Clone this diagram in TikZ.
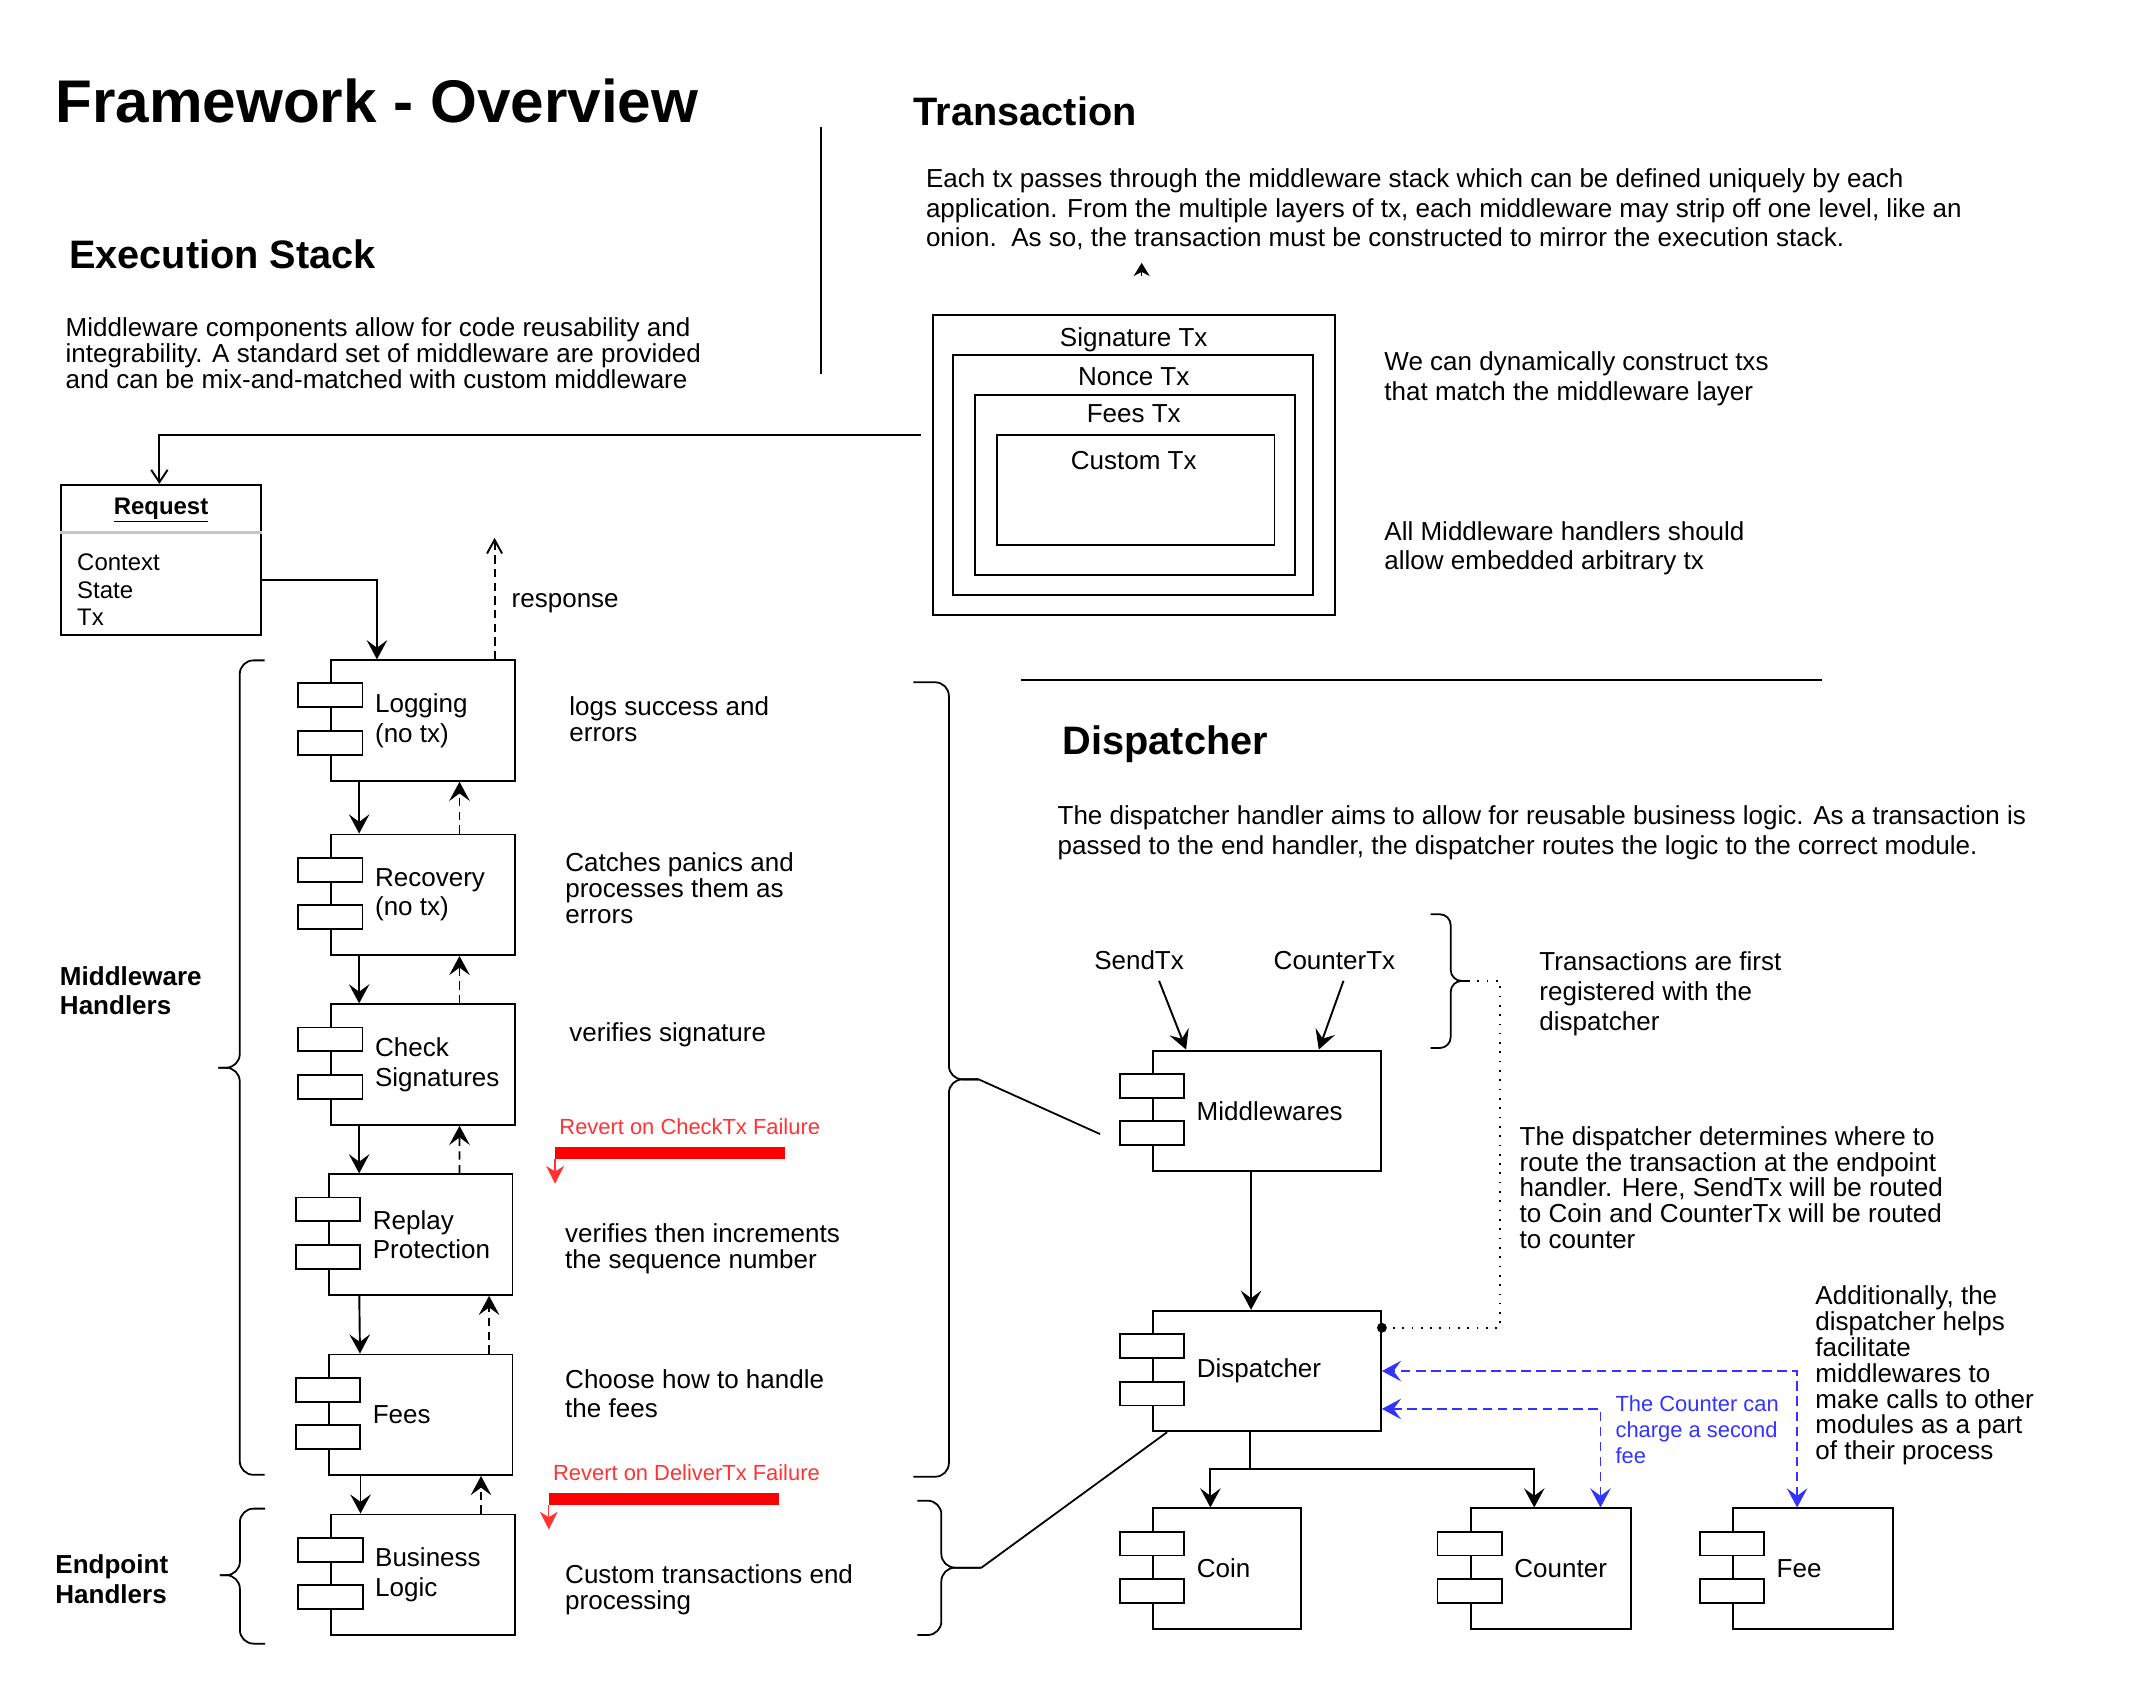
\documentclass[tikz,border=0pt]{standalone}
\usepackage{fontspec}
\setmainfont{Liberation Sans}
\usetikzlibrary{arrows.meta}
\definecolor{revertred}{HTML}{FF3333}
\definecolor{callblue}{HTML}{3333FF}

\begin{document}
\begin{tikzpicture}[
            x = 1pt, y = 1pt, % one unit per pixel of the sketch
            > = {Stealth[length=14pt, width=15pt, inset=5.5pt]}, % arrow head style
            line width = 1.4pt, % line style
            every node/.style = {inner sep=0pt, font=\fontsize{19}{19}\selectfont}
        ]

        \tikzstyle{comp}=[draw, fill=white, minimum width=134pt, minimum height=88pt]
        \tikzstyle{compname}=[anchor=west, align=left, font=\fontsize{19}{21.5}\selectfont]
        \tikzstyle{layer}=[draw]
        \tikzstyle{note}=[anchor=base west, align=left] % base = last line
        \tikzstyle{head}=[anchor=base west, font=\fontsize{29}{29}\selectfont\bfseries]
        \tikzstyle{brace}=[line width=1.3pt, rounded corners=10pt]
        \tikzstyle{flow}=[-{Stealth[length=14pt, width=15pt, inset=5.5pt]}]
        \tikzstyle{back}=[flow, dash pattern=on 6pt off 4pt]
        \tikzstyle{callback}=[{Stealth[length=14pt, width=15pt, inset=5.5pt]}-{Stealth[length=14pt, width=15pt, inset=5.5pt]}, callblue, line width=1.2pt, dash pattern=on 7pt off 4pt]
        \tikzstyle{failbar}=[red, line width=8.3pt]
        \tikzstyle{failarrow}=[-{Stealth[length=13pt, width=13pt, inset=4pt]}, revertred, line width=1pt]

        \useasboundingbox (0,0) rectangle (1560,-1238.7);

        % headings
        \node[anchor=base west, font=\fontsize{44}{44}\selectfont\bfseries] (title) at (39.8,-89.6) {Framework - Overview};
        \node[head] (exhead) at (49.8,-196.4) {Execution Stack};
        \node[note] (exnote) at (47.3,-283.5) {Middleware components allow for code reusability and\\integrability. A standard set of middleware are provided\\and can be mix-and-matched with custom middleware};
        \node[head] (txhead) at (666.7,-91.9) {Transaction};
        \node[note, font=\fontsize{19}{21.5}\selectfont] (txnote) at (675.6,-180.2) {Each tx passes through the middleware stack which can be defined uniquely by each\\application. From the multiple layers of tx, each middleware may strip off one level, like an\\onion.\ \ As so, the transaction must be constructed to mirror the execution stack.};
        \node[head] (dphead) at (775.4,-551) {Dispatcher};
        \node[note, font=\fontsize{19}{22}\selectfont] (dpnote) at (771.7,-623.9) {The dispatcher handler aims to allow for reusable business logic. As a transaction is\\passed to the end handler, the dispatcher routes the logic to the correct module.};

        \coordinate (sepa) at (599.5,-92.8);
        \coordinate (sepb) at (599.5,-273);
        \draw[line width=1.3pt] (sepa) -- (sepb);
        \coordinate (rulea) at (745.7,-496.8);
        \coordinate (ruleb) at (1331,-496.8);
        \draw[line width=1.3pt] (rulea) -- (ruleb);

        % transaction layers
        \node[layer, minimum width=293.9pt, minimum height=219.2pt] (sigtx) at (828.05,-339.6) {};
        \node[layer, minimum width=262.6pt, minimum height=175.5pt] (noncetx) at (827.3,-346.85) {};
        \node[layer, minimum width=233.8pt, minimum height=131.7pt] (feestx) at (828.8,-354.15) {};
        \node[layer, minimum width=202.9pt, minimum height=80.5pt] (customtx) at (829.35,-357.65) {};
        \node[anchor=base] (signame) at (828,-253.4) {Signature Tx};
        \node[anchor=base] (noncename) at (828,-281.9) {Nonce Tx};
        \node[anchor=base] (feesname) at (828,-308.8) {Fees Tx};
        \node[anchor=base] (customname) at (828,-343) {Custom Tx};
        \node[note, font=\fontsize{19}{21.5}\selectfont] (dynnote) at (1010.4,-292.3) {We can dynamically construct txs\\that match the middleware layer};
        \node[note, font=\fontsize{19}{21.5}\selectfont] (embnote) at (1010.4,-415.9) {All Middleware handlers should\\allow embedded arbitrary tx};
        \coordinate (tipa) at (833.8,-201.6);
        \coordinate (tipb) at (833.8,-192);
        \draw[-{Stealth[length=9.6pt, width=11.7pt, inset=3pt]}, line width=0.8pt] (tipa) -- (tipb);

        % request
        \node[draw, minimum width=145.7pt, minimum height=109.9pt] (req) at (117.65,-409.05) {};
        \node[anchor=base, font=\fontsize{17.5}{17.5}\selectfont\bfseries] (reqname) at (117.6,-375.4) {\underline{Request}};
        \draw[gray!45, line width=1.6pt] ([yshift=-35.5pt]req.north west) -- ([yshift=-35.5pt]req.north east);
        \node[note, font=\fontsize{17.5}{20.3}\selectfont] (reqfields) at (55.7,-457.1) {Context\\State\\Tx};

        % middleware stack
        \node[comp] (log) at (308.95,-526.25) {};
        \node[comp] (rec) at (308.95,-653.45) {};
        \node[comp] (chk) at (308.95,-777.5) {};
        \node[comp] (rep) at (307.3,-901.65) {};
        \node[comp] (fees) at (307.3,-1033.25) {};
        \node[comp] (biz) at (309,-1150.1) {};

        % dispatcher modules
        \node[comp, minimum width=166.5pt] (mw) at (925.25,-811.25) {};
        \node[comp, minimum width=166.5pt] (disp) at (925.3,-1001.3) {};
        \node[comp, minimum width=108pt] (coin) at (896.1,-1145.65) {};
        \node[comp, minimum width=117pt] (ctr) at (1132.55,-1145.65) {};
        \node[comp, minimum width=117pt] (fee) at (1324.05,-1145.65) {};

        \foreach \c in {log,rec,chk,rep,fees,biz,mw,disp,coin,ctr,fee} {
            \draw[fill=white] ([xshift=-23.5pt,yshift=-17.6pt]\c.north west) rectangle ++(47,-17.5);
            \draw[fill=white] ([xshift=-23.5pt,yshift=-52.4pt]\c.north west) rectangle ++(47,-17.5);
        }

        \node[compname] (logname) at ([xshift=32pt]log.west) {Logging\\(no tx)};
        \node[compname] (recname) at ([xshift=32pt]rec.west) {Recovery\\(no tx)};
        \node[compname] (chkname) at ([xshift=32pt]chk.west) {Check\\Signatures};
        \node[compname] (repname) at ([xshift=32pt]rep.west) {Replay\\Protection};
        \node[compname] (feesname2) at ([xshift=32pt]fees.west) {Fees};
        \node[compname] (bizname) at ([xshift=32pt]biz.west) {Business\\Logic};
        \node[compname] (mwname) at ([xshift=32pt]mw.west) {Middlewares};
        \node[compname] (dispname) at ([xshift=32pt]disp.west) {Dispatcher};
        \node[compname] (coinname) at ([xshift=32pt]coin.west) {Coin};
        \node[compname] (ctrname) at ([xshift=32pt]ctr.west) {Counter};
        \node[compname] (feename) at ([xshift=32pt]fee.west) {Fee};

        % request in, response out
        \coordinate (txout) at (672.6,-318);
        \draw[-{Straight Barb[length=9pt, width=12pt]}] (txout) -| ([xshift=-1.25pt]req.north);
        \draw[flow] ([yshift=-14.75pt]req.east) -| ([xshift=-33.65pt]log.north);
        \coordinate (resp) at (361.2,-392.8);
        \draw[-{Straight Barb[length=10pt, width=11pt]}, dash pattern=on 6pt off 4pt] ([xshift=52.25pt]log.north) -- (resp);
        \node[note] (respname) at (373,-443.5) {response};

        % down the stack and back up
        \draw[flow] ([xshift=-46.65pt]log.south) -- ([xshift=-46.65pt]rec.north);
        \draw[back] ([xshift=26.65pt]rec.north) -- ([xshift=26.65pt]log.south);
        \draw[flow] ([xshift=-46.65pt]rec.south) -- ([xshift=-46.65pt]chk.north);
        \draw[back] ([xshift=26.65pt]chk.north) -- ([xshift=26.65pt]rec.south);
        \draw[flow] ([xshift=-46.65pt]chk.south) -- ([xshift=-45pt]rep.north);
        \draw[back] ([xshift=28.3pt]rep.north) -- ([xshift=26.65pt]chk.south);
        \draw[flow] ([xshift=-44.9pt]rep.south) -- ([xshift=-44.4pt]fees.north);
        \draw[back] ([xshift=49.9pt]fees.north) -- ([xshift=49.9pt]rep.south);
        \draw[flow] ([xshift=-44pt]fees.south) -- ([xshift=-45.7pt]biz.north);
        \draw[back] ([xshift=42.3pt]biz.north) -- ([xshift=44pt]fees.south);

        % notes beside the stack
        \node[note] (lognote) at (415.2,-541.8) {logs success and\\errors};
        \node[note] (recnote) at (412.2,-674.5) {Catches panics and\\processes them as\\errors};
        \node[note] (chknote) at (415.2,-760.6) {verifies signature};
        \node[note] (repnote) at (412.1,-926.5) {verifies then increments\\the sequence number};
        \node[note, font=\fontsize{19}{21}\selectfont] (feesnote) at (412.1,-1035.4) {Choose how to handle\\the fees};
        \node[note] (biznote) at (412.1,-1175.5) {Custom transactions end\\processing};

        \node[note, revertred, font=\fontsize{16}{16}\selectfont] (checkfail) at (407.9,-828.4) {Revert on CheckTx Failure};
        \coordinate (cfail) at (405.4,-842);
        \draw[failbar] (cfail) -- ++(168.1,0);
        \draw[failarrow] ([yshift=-4.15pt]cfail) -- ++(0,-18.4);
        \node[note, revertred, font=\fontsize{16}{16}\selectfont] (deliverfail) at (403.3,-1081) {Revert on DeliverTx Failure};
        \coordinate (dfail) at (400.8,-1094.7);
        \draw[failbar] (dfail) -- ++(168.1,0);
        \draw[failarrow] ([yshift=-4.15pt]dfail) -- ++(0,-18.2);

        % braces
        \node[note, font=\fontsize{19}{21.6}\selectfont\bfseries] (mwgroup) at (43.1,-741) {Middleware\\Handlers};
        \node[note, font=\fontsize{19}{22}\selectfont\bfseries] (epgroup) at (39.8,-1171) {Endpoint\\Handlers};
        \draw[brace] (193.3,-482.3) -- (175.1,-482.3) -- (175.1,-779.8) -- (159.5,-779.8);
        \draw[brace] (193.3,-1077.1) -- (175.1,-1077.1) -- (175.1,-779.8) -- (159.5,-779.8);
        \draw[brace] (193.7,-1101.8) -- (175.2,-1101.8) -- (175.2,-1150.4) -- (160.6,-1150.4);
        \draw[brace] (193.7,-1200.4) -- (175.2,-1200.4) -- (175.2,-1150.4) -- (160.6,-1150.4);

        \coordinate (stacktip) at (714.8,-788.3);
        \coordinate (endtip) at (716.8,-1144.9);
        \coordinate (regtip) at (1072.2,-716.4);
        \draw[brace] (667,-498.3) -- (693,-498.3) -- (693,-788.3) -- (stacktip);
        \draw[brace] (667,-1078.5) -- (693,-1078.5) -- (693,-788.3) -- (stacktip);
        \draw[brace] (669.9,-1096) -- (687.5,-1096) -- (687.5,-1144.9) -- (endtip);
        \draw[brace] (669.9,-1194.1) -- (687.5,-1194.1) -- (687.5,-1144.9) -- (endtip);
        \draw[brace, rounded corners=8pt] (1044.8,-667.7) -- (1059.5,-667.7) -- (1059.5,-716.4) -- (regtip);
        \draw[brace, rounded corners=8pt] (1044.8,-765.4) -- (1059.5,-765.4) -- (1059.5,-716.4) -- (regtip);

        \draw[line width=1.3pt] (stacktip) -- ([xshift=-37.9pt,yshift=-17pt]mw.west);
        \draw[line width=1.3pt] (endtip) -- ([xshift=11pt]disp.south west);

        % dispatcher flow
        \node[anchor=base] (sendtx) at (831.9,-708.4) {SendTx};
        \node[anchor=base] (countertx) at (974.6,-708.4) {CounterTx};
        \draw[flow] ([shift={(14.6,-7.9)}]sendtx.base) -- ([xshift=-59pt]mw.north);
        \draw[flow] ([shift={(6.6,-7.9)}]countertx.base) -- ([xshift=37.9pt]mw.north);
        \draw[flow] ([xshift=-11.55pt]mw.south) -- ([xshift=-11.6pt]disp.north);

        \coordinate (split) at (913,-1072.8);
        \draw[flow] ([xshift=-12.3pt]disp.south) -- (split) -| ([xshift=-12.1pt]coin.north);
        \draw[flow] (split) -| ([xshift=-12.05pt]ctr.north);

        \draw[callback] ([xshift=-11.55pt]fee.north) |- (disp.east);
        \draw[callback] ([xshift=36.35pt]ctr.north) |- ([yshift=-27.7pt]disp.east);

        \coordinate (hook) at ([yshift=-13.1pt]disp.north east);
        \draw[line width=1.2pt, dash pattern=on 1.2pt off 5.6pt] (regtip) -- ++(23.3,0) |- (hook);
        \fill (hook) circle (3.6);

        \node[note, font=\fontsize{19}{22}\selectfont] (regnote) at (1123.6,-752.5) {Transactions are first\\registered with the\\dispatcher};
        \node[note, font=\fontsize{19}{18.85}\selectfont] (routenote) at (1109.2,-911.8) {The dispatcher determines where to\\route the transaction at the endpoint\\handler. Here, SendTx will be routed\\to Coin and CounterTx will be routed\\to counter};
        \node[note, font=\fontsize{19}{18.85}\selectfont] (callnote) at (1325.2,-1066.1) {Additionally, the\\dispatcher helps\\facilitate\\middlewares to\\make calls to other\\modules as a part\\of their process};
        \node[note, callblue, font=\fontsize{16}{19}\selectfont] (feenote) at (1179.2,-1069.1) {The Counter can\\charge a second\\fee};
\end{tikzpicture}
\end{document}
